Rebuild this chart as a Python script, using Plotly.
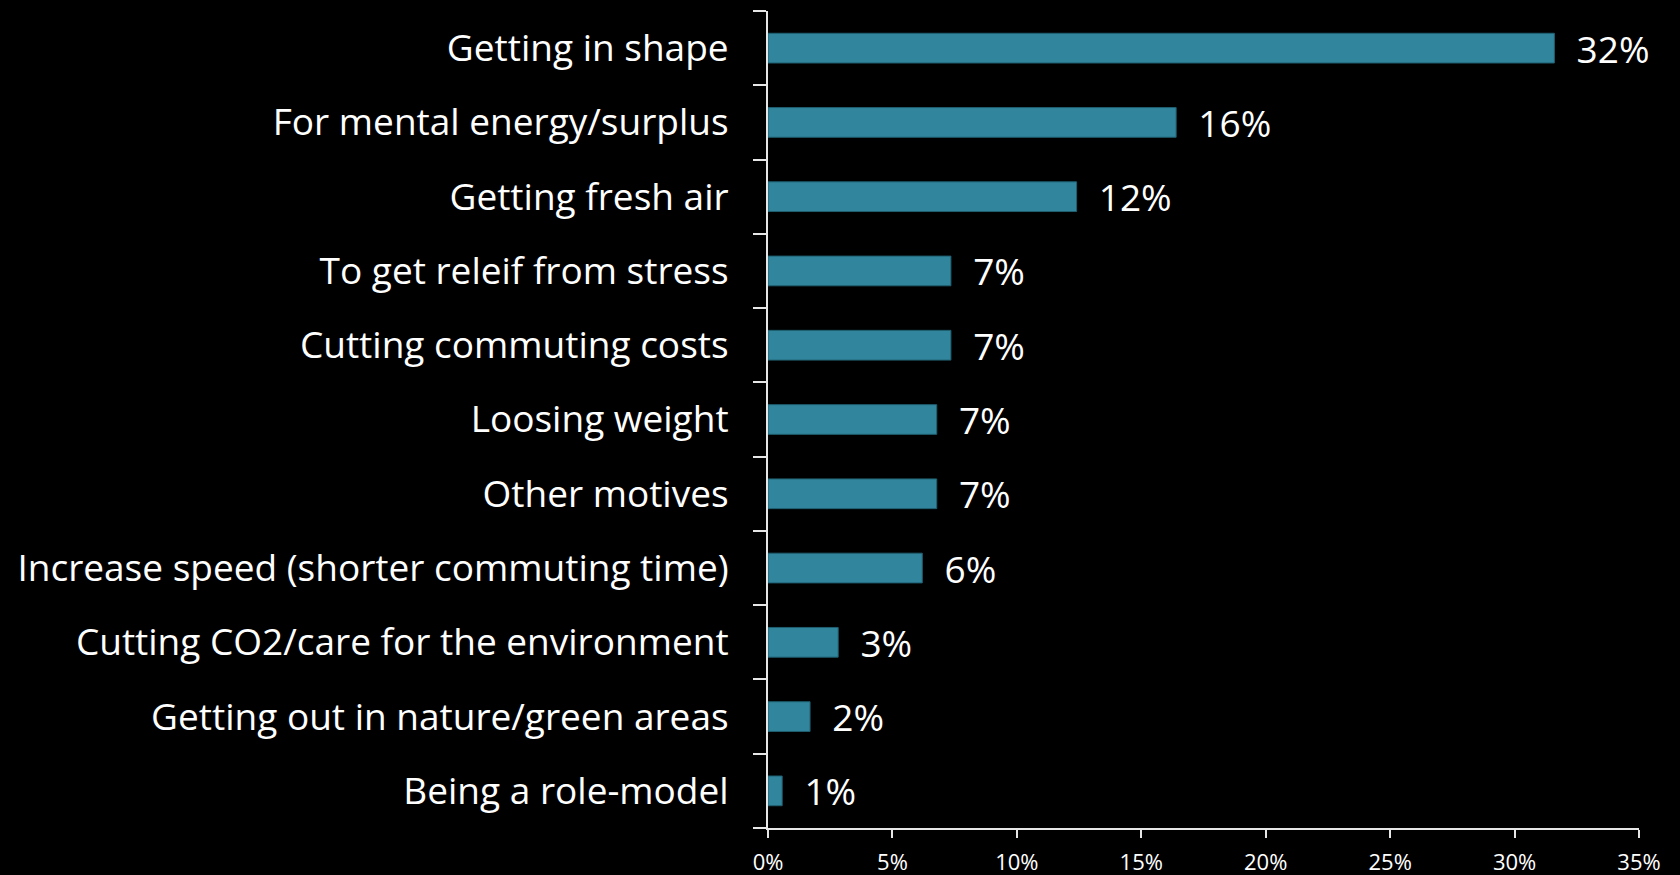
import plotly.graph_objects as go

# Motives for cycling, share of respondents (top to bottom)
categories = [
    "Getting in shape",
    "For mental energy/surplus",
    "Getting fresh air",
    "To get releif from stress",
    "Cutting commuting costs",
    "Loosing weight",
    "Other motives",
    "Increase speed (shorter commuting time)",
    "Cutting CO2/care for the environment",
    "Getting out in nature/green areas",
    "Being a role-model",
]
shares = [0.316, 0.164, 0.124, 0.0735, 0.0735, 0.0678, 0.0678, 0.062, 0.0282, 0.0169, 0.0057]
x_ticks = [0, 0.05, 0.10, 0.15, 0.20, 0.25, 0.30, 0.35]

FONT = "Open Sans"
AXIS_COLOR = "#E6E6E6"

fig = go.Figure(
    go.Bar(
        x=shares,
        y=categories,
        orientation="h",
        marker=dict(color="#31869E", line=dict(color="#1F5F70", width=1)),
        texttemplate="\u00a0\u00a0%{x:.0%}",
        textposition="outside",
        constraintext="none",
        cliponaxis=False,
        textfont=dict(family=FONT, size=37, color="white"),
        hoverinfo="skip",
    )
)

fig.update_layout(
    width=1680,
    height=875,
    paper_bgcolor="black",
    plot_bgcolor="black",
    margin=dict(l=768, r=41, t=11, b=47),
    bargap=0.6,
    showlegend=False,
    font=dict(family=FONT, color="white"),
)

fig.update_yaxes(
    categoryorder="array",
    categoryarray=categories[::-1],
    automargin=False,
    showline=True,
    linecolor=AXIS_COLOR,
    linewidth=2,
    ticks="outside",
    tickson="boundaries",
    ticklen=13,
    tickwidth=2,
    tickcolor=AXIS_COLOR,
    ticklabelstandoff=30,
    tickfont=dict(family=FONT, size=37, color="white"),
    showgrid=False,
    zeroline=False,
)

fig.update_xaxes(
    range=[0, 0.35],
    tickvals=x_ticks,
    tickformat=".0%",
    automargin=False,
    showline=True,
    linecolor=AXIS_COLOR,
    linewidth=2,
    ticks="outside",
    ticklen=8,
    tickwidth=2,
    tickcolor=AXIS_COLOR,
    ticklabelstandoff=6,
    tickfont=dict(family=FONT, size=22, color="white"),
    showgrid=False,
    zeroline=False,
)

fig.write_html("out.html")
